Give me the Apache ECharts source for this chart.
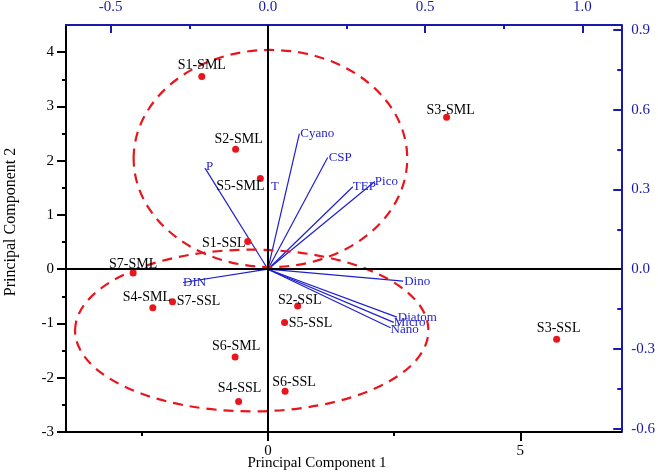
<!DOCTYPE html>
<html>
<head>
<meta charset="utf-8">
<script src="https://cdn.jsdelivr.net/npm/echarts@6/dist/echarts.min.js"></script>
<style>
  html, body { margin: 0; padding: 0; background: #fff; }
  #main { width: 658px; height: 473px; }
</style>
</head>
<body>
<div id="main"></div>
<script>
// sample scores (PC1 / PC2)
const scoreNames = ['S1-SML', 'S2-SML', 'S5-SML', 'S3-SML', 'S1-SSL', 'S7-SML', 'S4-SML',
  'S7-SSL', 'S2-SSL', 'S5-SSL', 'S6-SML', 'S4-SSL', 'S6-SSL', 'S3-SSL'];
const pc1 = [-1.31, -0.64, -0.15, 3.54, -0.40, -2.67, -2.28, -1.89, 0.59, 0.33, -0.65, -0.58, 0.34, 5.72];
const pc2 = [3.55, 2.21, 1.67, 2.80, 0.51, -0.07, -0.71, -0.60, -0.68, -0.98, -1.62, -2.44, -2.25, -1.29];

// variable loadings (top / right axes)
const varNames = ['P', 'T', 'Cyano', 'CSP', 'TEP', 'Pico', 'DIN', 'Dino', 'Diatom', 'Micro', 'Nano'];
const load1 = [-0.20, 0.0, 0.10, 0.19, 0.27, 0.34, -0.27, 0.43, 0.41, 0.40, 0.39];
const load2 = [0.38, 0.34, 0.51, 0.42, 0.31, 0.33, -0.05, -0.045, -0.18, -0.20, -0.22];

// group ellipses: centre x, centre y, radius x, radius y (PC units)
const ellCx = [0.05, -0.32];
const ellCy = [2.04, -1.13];
const ellRx = [2.71, 3.50];
const ellRy = [2.00, 1.49];

// tick labels
const xTicks = [0, 5];
const xMinor = [-2.5, 2.5];
const yTicks = [-3, -2, -1, 0, 1, 2, 3, 4];
const yMinor = [-2.5, -1.5, -0.5, 0.5, 1.5, 2.5, 3.5];
const topTicks = [-0.5, 0, 0.5, 1.0];
const topMinor = [-0.25, 0.25, 0.75];
const rightTicks = [-0.6, -0.3, 0, 0.3, 0.6, 0.9];
const rightMinor = [-0.45, -0.15, 0.15, 0.45, 0.75];

// label placement (px offsets from the point)
const scoreLabelOff = [[0, -11], [3, -10], [-20, 8], [4, -7], [-24, 2], [0, -9], [-6, -10],
  [26, 0], [2, -6], [26, 1], [1, -11], [1, -13], [9, -9], [2, -11]];
const varLabelOff = [[1, -2], [3, 8], [1, 0], [1, 0], [0, 0], [0, 0], [0, 0], [1, 0], [1, 0], [0, 0], [0, 2]];

const FONT = '"Liberation Serif", "Times New Roman", serif';
const BLUE = '#1a1aa8';
const VBLUE = '#1f1fcc';
const RED = '#e8161c';

var chartDom = document.getElementById('main');
var myChart = echarts.init(chartDom);

const mainX = (pos, min, max, color, ticks, inside, fmt) => ({
  type: 'value', position: pos, min: min, max: max,
  axisLine: { show: true, onZero: false, lineStyle: { color: color, width: 2 } },
  axisTick: { show: true, customValues: ticks, inside: inside, length: inside ? 8 : 9, lineStyle: { color: color, width: 2 } },
  axisLabel: { customValues: ticks, color: color, fontSize: 15, fontFamily: FONT, margin: inside ? 10 : 12, formatter: fmt },
  splitLine: { show: false }
});
const minorAxis = (pos, min, max, color, ticks, inside) => ({
  type: 'value', position: pos, min: min, max: max,
  axisLine: { show: false, onZero: false },
  axisTick: { show: true, customValues: ticks, inside: inside, length: 4, lineStyle: { color: color, width: 2 } },
  axisLabel: { show: false },
  splitLine: { show: false }
});
const fmt1 = (v) => v.toFixed(1);
const fmt0 = (v) => String(v);

let scoreData = [];
scoreNames.forEach((n, i) => {
  scoreData.push({
    name: n,
    value: [pc1[i], pc2[i]],
    label: { offset: scoreLabelOff[i] }
  });
});

let vecData = [];
varNames.forEach((n, i) => {
  vecData.push({ name: n, value: [load1[i], load2[i]] });
});

let ellData = [];
ellCx.forEach((c, i) => {
  ellData.push([c, ellCy[i], ellRx[i], ellRy[i]]);
});

var option = {
  animation: false,
  grid: { left: 66, right: 34, top: 24, bottom: 41 },
  xAxis: [
    mainX('bottom', -4, 7, '#000', xTicks, false, fmt0),
    mainX('top', -0.642, 1.1235, BLUE, topTicks, true, fmt1),
    minorAxis('bottom', -4, 7, '#000', xMinor, false),
    minorAxis('top', -0.642, 1.1235, BLUE, topMinor, true)
  ],
  yAxis: [
    mainX('left', -3, 4.5, '#000', yTicks, false, fmt0),
    mainX('right', -0.612, 0.918, BLUE, rightTicks, true, fmt1),
    minorAxis('left', -3, 4.5, '#000', yMinor, false),
    minorAxis('right', -0.612, 0.918, BLUE, rightMinor, true)
  ],
  graphic: [
    {
      type: 'text', x: 317, y: 463,
      style: { text: 'Principal Component 1', font: '15px ' + FONT, fill: '#000', align: 'center', verticalAlign: 'middle' }
    },
    {
      type: 'text', x: 11, y: 222, rotation: Math.PI / 2,
      style: { text: 'Principal Component 2', font: '16px ' + FONT, fill: '#000', align: 'center', verticalAlign: 'middle' }
    }
  ],
  series: [
    {
      type: 'custom',
      name: 'vectors',
      xAxisIndex: 1,
      yAxisIndex: 1,
      z: 2,
      clip: false,
      data: vecData,
      renderItem: function (params, api) {
        const o = api.coord([0, 0]);
        const p = api.coord([api.value(0), api.value(1)]);
        const off = varLabelOff[params.dataIndex];
        return {
          type: 'group',
          children: [
            { type: 'line', shape: { x1: o[0], y1: o[1], x2: p[0], y2: p[1] }, style: { stroke: VBLUE, lineWidth: 1.2 } },
            {
              type: 'text', x: p[0] + off[0], y: p[1] + off[1],
              style: { text: varNames[params.dataIndex], fill: VBLUE, font: '13px ' + FONT, align: 'left', verticalAlign: 'middle' }
            }
          ]
        };
      }
    },
    {
      type: 'custom',
      name: 'ellipses',
      xAxisIndex: 0,
      yAxisIndex: 0,
      z: 3,
      data: ellData,
      renderItem: function (params, api) {
        const c = api.coord([api.value(0), api.value(1)]);
        const s = api.size([api.value(2), api.value(3)]);
        return {
          type: 'ellipse',
          shape: { cx: c[0], cy: c[1], rx: s[0], ry: s[1] },
          style: { fill: 'none', stroke: RED, lineWidth: 2.2, lineDash: [10, 7] }
        };
      }
    },
    {
      type: 'scatter',
      name: 'scores',
      xAxisIndex: 0,
      yAxisIndex: 0,
      z: 4,
      symbolSize: 7,
      itemStyle: { color: RED, opacity: 1 },
      label: {
        show: true,
        position: 'inside',
        formatter: '{b}',
        color: '#000',
        fontSize: 14,
        fontFamily: FONT
      },
      data: scoreData,
      markLine: {
        silent: true,
        symbol: ['none', 'none'],
        label: { show: false },
        lineStyle: { color: '#000', width: 2, type: 'solid' },
        data: [{ xAxis: 0 }, { yAxis: 0 }]
      }
    }
  ]
};
myChart.setOption(option);
</script>
</body>
</html>
